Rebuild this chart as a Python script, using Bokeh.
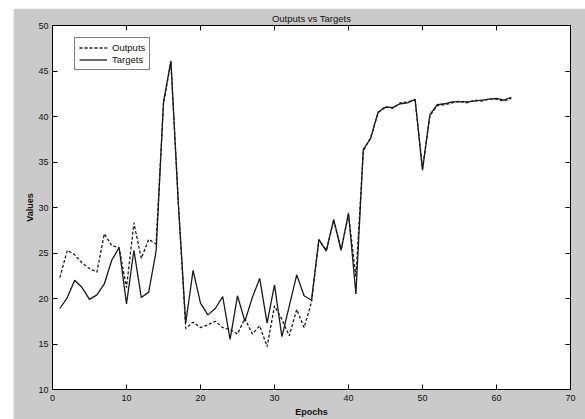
from bokeh.plotting import figure
from bokeh.models import (LinearAxis, FixedTicker, Legend, LegendItem,
                          ColumnDataSource, Range1d, Spacer)
from bokeh.layouts import row, column
from bokeh.embed import file_html
from bokeh.resources import INLINE

# ---- data ----
epochs = list(range(1, 63))
targets = [18.9, 20.1, 22.0, 21.2, 19.9, 20.4, 21.6, 24.2, 25.6, 19.4,
           25.3, 20.1, 20.7, 25.2, 41.6, 46.1, 30.5, 17.3, 23.1, 19.5,
           18.2, 18.9, 20.2, 15.5, 20.3, 17.5, 20.1, 22.2, 17.3, 21.5,
           15.8, 19.2, 22.6, 20.3, 19.8, 26.5, 25.2, 28.7, 25.3, 29.4,
           20.5, 36.4, 37.6, 40.5, 41.0, 41.0, 41.4, 41.5, 41.9, 34.1,
           40.2, 41.3, 41.4, 41.6, 41.6, 41.6, 41.7, 41.8, 41.9, 42.0,
           41.8, 42.1]
outputs = [22.3, 25.3, 24.8, 23.9, 23.3, 22.9, 27.1, 25.8, 25.6, 21.2,
           28.3, 24.4, 26.5, 26.0, 41.4, 46.0, 30.6, 16.7, 17.4, 16.8,
           17.1, 17.5, 16.8, 16.6, 16.1, 17.8, 16.1, 17.0, 14.7, 19.2,
           17.7, 15.9, 18.8, 16.8, 19.6, 26.4, 25.3, 28.6, 25.4, 29.2,
           22.4, 36.2, 37.7, 40.4, 41.1, 40.9, 41.5, 41.6, 41.8, 34.3,
           40.1, 41.2, 41.3, 41.5, 41.7, 41.5, 41.8, 41.7, 41.9, 41.9,
           41.7, 42.0]
x_ticks = [0, 10, 20, 30, 40, 50, 60, 70]
y_ticks = [10, 15, 20, 25, 30, 35, 40, 45, 50]

source = ColumnDataSource(dict(epoch=epochs, outputs=outputs, targets=targets))

FONT = "Liberation Sans"
GRAY = "#cacaca"

p = figure(width=572, height=411,
           x_range=Range1d(0, 70), y_range=Range1d(10, 50),
           output_backend="svg", toolbar_location=None,
           title="Outputs vs Targets",
           min_border_left=39, min_border_right=15,
           min_border_top=17, min_border_bottom=27,
           background_fill_color="white", border_fill_color=GRAY,
           outline_line_color="black", outline_line_width=1)

p.title.text_font = FONT
p.title.text_font_size = "9.5px"
p.title.text_font_style = "normal"
p.title.align = "center"
p.title.text_color = "#111111"
p.title.standoff = 4

p.grid.visible = False

def style_axis(ax):
    ax.major_tick_in = 5
    ax.major_tick_out = 0
    ax.minor_tick_in = 0
    ax.minor_tick_out = 0
    ax.axis_line_color = "black"
    ax.major_tick_line_color = "black"
    ax.major_label_text_font = FONT
    ax.major_label_text_font_size = "9px"
    ax.major_label_text_color = "#111111"
    ax.axis_label_text_font = FONT
    ax.axis_label_text_font_size = "9px"
    ax.axis_label_text_font_style = "bold"
    ax.axis_label_text_color = "#111111"

p.xaxis.ticker = FixedTicker(ticks=x_ticks)
p.yaxis.ticker = FixedTicker(ticks=y_ticks)
p.xaxis.axis_label = "Epochs"
p.yaxis.axis_label = "Values"
style_axis(p.xaxis[0])
style_axis(p.yaxis[0])
p.xaxis.major_label_standoff = 5
p.xaxis.axis_label_standoff = 3
p.yaxis.major_label_standoff = 4
p.yaxis.axis_label_standoff = 0

# box ticks on top and right
top = LinearAxis(ticker=FixedTicker(ticks=x_ticks),
                 major_label_overrides={t: "" for t in x_ticks})
right = LinearAxis(ticker=FixedTicker(ticks=y_ticks),
                   major_label_overrides={t: "" for t in y_ticks})
for ax in (top, right):
    style_axis(ax)
    ax.major_label_standoff = 0
p.add_layout(top, "above")
p.add_layout(right, "right")

r_out = p.line("epoch", "outputs", source=source, line_color="#1a1a1a",
               line_width=1.3, line_dash="3 2")
r_tgt = p.line("epoch", "targets", source=source, line_color="#1a1a1a",
               line_width=1.3)

legend = Legend(items=[LegendItem(label="Outputs", renderers=[r_out]),
                       LegendItem(label="Targets", renderers=[r_tgt])],
                location=(22, 367 - 16 - 32))
legend.border_line_color = "black"
legend.border_line_width = 1
legend.background_fill_color = "white"
legend.background_fill_alpha = 1
legend.label_text_font = FONT
legend.label_text_font_size = "9.5px"
legend.label_text_color = "#111111"
legend.glyph_width = 28
legend.glyph_height = 11
legend.label_height = 11
legend.spacing = 1
legend.padding = 4
legend.margin = 0
legend.label_standoff = 5
p.add_layout(legend)

layout = column(Spacer(width=585, height=8),
                row(Spacer(width=13, height=411), p))

open("out.html", "w").write(file_html(layout, INLINE))
